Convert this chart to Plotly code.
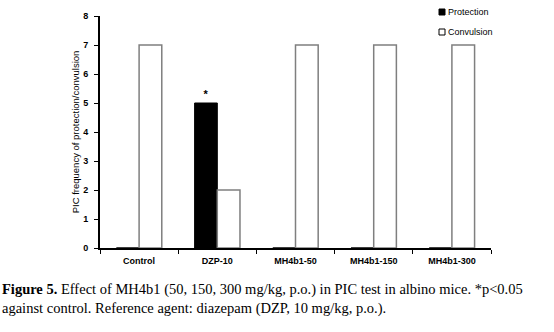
import plotly.graph_objects as go

categories = ["Control", "DZP-10", "MH4b1-50", "MH4b1-150", "MH4b1-300"]
protection = [0, 5, 0, 0, 0]
convulsion = [7, 2, 7, 7, 7]
significance = ["", "*", "", "", ""]
y_ticks = [0, 1, 2, 3, 4, 5, 6, 7, 8]

W, H = 554, 332
L, R, T, B = 100, 63, 16, 84
pw, ph = W - L - R, H - T - B

def px_x(p):
    return (p - L) / pw

def px_y(p):
    return (H - B - p) / ph

lab_font = dict(family="Liberation Sans, Arial, sans-serif", size=9, color="black", weight="bold")

fig = go.Figure()
fig.add_trace(go.Bar(
    x=categories, y=protection, name="Protection",
    marker=dict(color="black", line=dict(color="black", width=1)),
    text=significance, textposition="outside",
    textfont=dict(family="Liberation Sans, Arial, sans-serif", size=11, color="black", weight="bold"),
    cliponaxis=False, hoverinfo="skip",
))
fig.add_trace(go.Bar(
    x=categories, y=convulsion, name="Convulsion",
    marker=dict(color="white", line=dict(color="#7f7f7f", width=1.5)),
    hoverinfo="skip",
))

fig.update_layout(
    width=W, height=H,
    margin=dict(l=L, r=R, t=T, b=B, pad=0),
    paper_bgcolor="white", plot_bgcolor="white",
    barmode="group", bargap=0.42, bargroupgap=0,
    showlegend=False,
)
fig.update_xaxes(
    showline=True, linecolor="black", linewidth=2,
    ticks="outside", tickson="boundaries", ticklen=4, tickwidth=1, tickcolor="black",
    tickfont=lab_font, showgrid=False, zeroline=False, ticklabelstandoff=3,
)
fig.update_yaxes(
    range=[0, 8], tickvals=y_ticks, showline=True, linecolor="black", linewidth=2,
    ticks="outside", ticklen=4, tickwidth=1, tickcolor="black",
    tickfont=lab_font, showgrid=False, zeroline=False, ticklabelstandoff=4,
    title=dict(text="PIC frequency of protection/convulsion",
               font=dict(family="Liberation Sans, Arial, sans-serif", size=9.5, color="black"),
               standoff=2),
)

# manual legend
legend_items = [("Protection", "black", 12), ("Convulsion", "white", 32)]
for name, fill, py in legend_items:
    fig.add_shape(type="rect", xref="paper", yref="paper",
                  x0=px_x(439), x1=px_x(445), y0=px_y(py + 3), y1=px_y(py - 3),
                  fillcolor=fill, line=dict(color="black", width=1))
    fig.add_annotation(xref="paper", yref="paper", x=px_x(446), y=px_y(py),
                       text=name, showarrow=False, xanchor="left", yanchor="middle",
                       font=dict(family="Liberation Sans, Arial, sans-serif", size=9, color="black"))

cap_font = dict(family="Liberation Serif, Times New Roman, serif", size=14.5, color="black")
fig.add_annotation(xref="paper", yref="paper", x=px_x(0), y=px_y(289),
                   text="<b>Figure 5.</b> Effect of MH4b1 (50, 150, 300 mg/kg, p.o.) in PIC test in albino mice. *p&lt;0.05",
                   showarrow=False, xanchor="left", yanchor="middle", font=cap_font)
fig.add_annotation(xref="paper", yref="paper", x=px_x(0), y=px_y(308),
                   text="against control. Reference agent: diazepam (DZP, 10 mg/kg, p.o.).",
                   showarrow=False, xanchor="left", yanchor="middle", font=cap_font)

fig.write_html("out.html", config={"displayModeBar": False},
               post_script="document.body.style.margin='0';document.body.style.overflow='hidden';")
